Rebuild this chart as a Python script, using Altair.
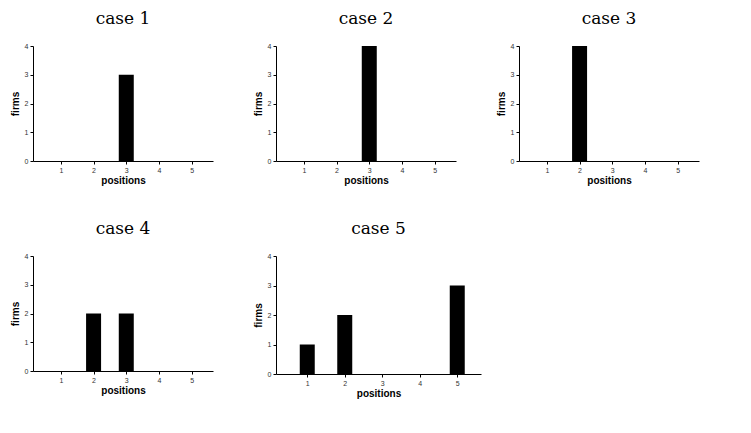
import altair as alt
import pandas as pd

positions = [1, 2, 3, 4, 5]
case1 = [0, 0, 3, 0, 0]
case2 = [0, 0, 4, 0, 0]
case3 = [0, 4, 0, 0, 0]
case4 = [0, 2, 2, 0, 0]
case5 = [1, 2, 0, 0, 3]


def panel(name, values, w=180, h=115):
    data = pd.DataFrame({'positions': positions, 'firms': values})
    chart = alt.Chart(data).mark_bar(color='black', size=15).encode(
        x=alt.X('positions:Q',
                title='positions',
                scale=alt.Scale(domain=[0.3, 5.5], nice=False),
                axis=alt.Axis(values=positions, grid=False, labelFontSize=7, titleFontSize=10,
                              titleFontWeight='bold', tickSize=3, domainColor='black',
                              tickColor='black', labelColor='#333', titlePadding=2)),
        y=alt.Y('firms:Q',
                title='firms',
                scale=alt.Scale(domain=[0, 4]),
                axis=alt.Axis(values=[0, 1, 2, 3, 4], grid=False, labelFontSize=7, titleFontSize=10,
                              titleFontWeight='bold', tickSize=3, domainColor='black',
                              tickColor='black', labelColor='#333', titlePadding=4))
    ).properties(
        width=w,
        height=h,
        title=alt.TitleParams(text=name, font='DejaVu Serif', fontSize=17,
                              fontWeight='normal', anchor='middle', offset=14)
    )
    return chart


row1 = alt.hconcat(panel('case 1', case1), panel('case 2', case2),
                   panel('case 3', case3), spacing=40)
row2 = alt.hconcat(panel('case 4', case4), panel('case 5', case5, w=205, h=118),
                   spacing=40)
chart = alt.vconcat(row1, row2, spacing=35).configure(
    font='Liberation Sans', padding=2).configure_view(stroke=None)

chart.save("out.html", embed_options={"renderer": "svg", "actions": False})
